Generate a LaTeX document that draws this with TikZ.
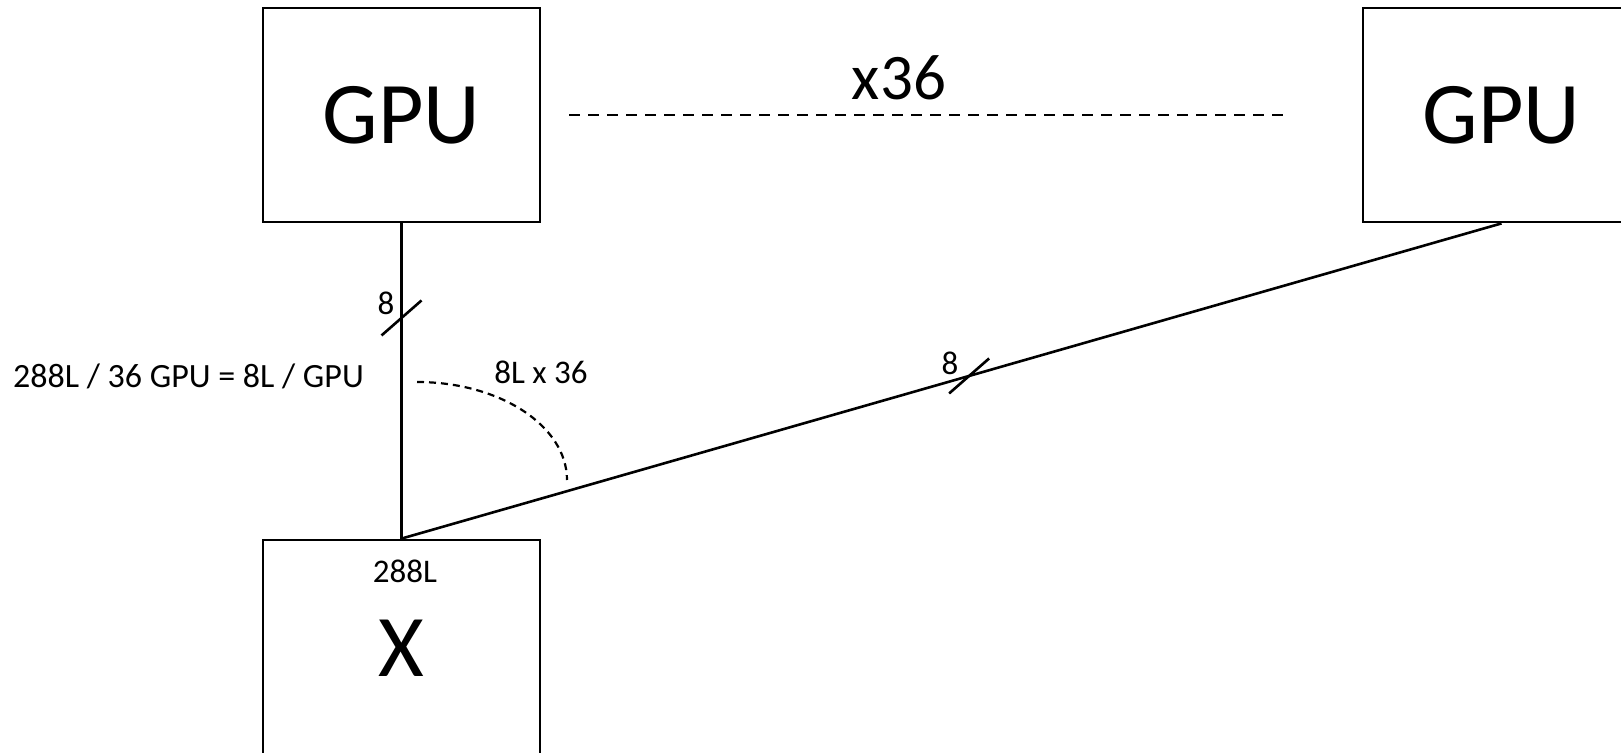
\documentclass[tikz,border=0pt]{standalone}
\usepackage{fontspec}
\setmainfont{Carlito}
\usetikzlibrary{calc}
\begin{document}
\begin{tikzpicture}[x=0.5pt,y=-0.5pt,line join=miter,
  unit/.style={draw,line width=1.4pt,minimum width=138.5pt,minimum height=107pt,inner sep=0pt,font=\fontsize{44}{50}\selectfont},
  link/.style={line width=1.3pt},
  lbl/.style={inner sep=0pt,font=\fontsize{16.5}{19}\selectfont}]
  \useasboundingbox (0,0) rectangle (1621,753);
  \clip (0,0) rectangle (1621,753);
  % boxes
  \node[unit] (gpuA) at (401.5,115) {GPU};
  \node[unit] (gpuB) at (1501.5,115) {GPU};
  \node[unit,minimum height=108pt] (sw) at (401.5,648) {X};
  % links
  \draw[link] (gpuA.south) -- (sw.north);
  \draw[link] (gpuB.south) -- (sw.north);
  \draw[line width=1.2pt,dash pattern=on 5.5pt off 4pt] ([xshift=14pt]gpuA.east) -- ([xshift=-37.5pt]gpuB.west);
  \node[inner sep=0pt,font=\fontsize{32.5}{38}\selectfont] (rep) at (899,78) {x36};
  % bundle ticks
  \coordinate (tkA) at ($(gpuA.south)!0.3!(sw.north)$);
  \coordinate (tkB) at ($(gpuB.south)!0.484!(sw.north)$);
  \draw[link] ([shift={(-20,17.5)}]tkA) -- ([shift={(20,-17.5)}]tkA);
  \draw[link] ([shift={(-20,17.5)}]tkB) -- ([shift={(20,-17.5)}]tkB);
  \node[lbl] (nA) at (386,303) {8};
  \node[lbl] (nB) at (950,363) {8};
  % angle
  \draw[line width=1.1pt,dash pattern=on 3.5pt off 2.5pt] (417,382) arc[start angle=90,end angle=0,x radius=75pt,y radius=49pt];
  \node[lbl] (tot) at (541,372) {8L x 36};
  \node[lbl,font=\fontsize{17}{21}\selectfont] (per) at (188.5,376) {288L / 36 GPU = 8L / GPU};
  \node[lbl] (port) at (405,571) {288L};
\end{tikzpicture}
\end{document}
